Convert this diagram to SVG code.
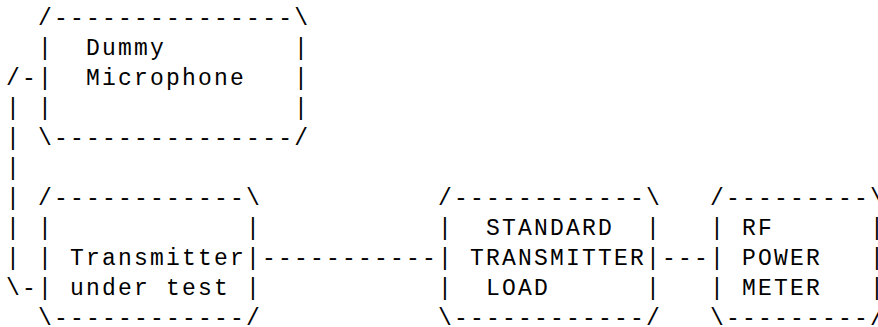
<svg xmlns="http://www.w3.org/2000/svg" width="878" height="327" viewBox="0 0 878 327">
  <style>
    /* monospaced character grid: 16px columns, 30px rows */
    .t { font-family: "Liberation Mono", "DejaVu Sans Mono", monospace; font-size: 23px; letter-spacing: 2.2px; fill: #000; }
  </style>
  <rect width="878" height="327" fill="#fff"/>

  <!-- Dummy Microphone box -->
  <g id="dummy-microphone" class="t">
    <text x="38.1" y="25">/---------------\</text>
    <text x="38.1" y="55">|</text><text x="86.1" y="55">Dummy</text><text x="294.1" y="55">|</text>
    <text x="38.1" y="85">|</text><text x="86.1" y="85">Microphone</text><text x="294.1" y="85">|</text>
    <text x="38.1" y="115">|</text><text x="294.1" y="115">|</text>
    <text x="38.1" y="145">\---------------/</text>
  </g>

  <!-- Transmitter under test box -->
  <g id="transmitter-under-test" class="t">
    <text x="38.1" y="205">/------------\</text>
    <text x="38.1" y="235">|</text><text x="246.1" y="235">|</text>
    <text x="38.1" y="265">|</text><text x="70.1" y="265">Transmitter</text><text x="246.1" y="265">|</text>
    <text x="38.1" y="295">|</text><text x="70.1" y="295">under</text><text x="166.1" y="295">test</text><text x="246.1" y="295">|</text>
    <text x="38.1" y="325">\------------/</text>
  </g>

  <!-- Standard transmitter load box -->
  <g id="standard-transmitter-load" class="t">
    <text x="438.1" y="205">/------------\</text>
    <text x="438.1" y="235">|</text><text x="486.1" y="235">STANDARD</text><text x="646.1" y="235">|</text>
    <text x="438.1" y="265">|</text><text x="470.1" y="265">TRANSMITTER</text><text x="646.1" y="265">|</text>
    <text x="438.1" y="295">|</text><text x="486.1" y="295">LOAD</text><text x="646.1" y="295">|</text>
    <text x="438.1" y="325">\------------/</text>
  </g>

  <!-- RF power meter box -->
  <g id="rf-power-meter" class="t">
    <text x="710.1" y="205">/---------\</text>
    <text x="710.1" y="235">|</text><text x="742.1" y="235">RF</text><text x="870.1" y="235">|</text>
    <text x="710.1" y="265">|</text><text x="742.1" y="265">POWER</text><text x="870.1" y="265">|</text>
    <text x="710.1" y="295">|</text><text x="742.1" y="295">METER</text><text x="870.1" y="295">|</text>
    <text x="710.1" y="325">\---------/</text>
  </g>

  <!-- connectors -->
  <g id="connectors" class="t">
    <text x="6.1" y="85">/-</text>
    <text x="6.1" y="115">|</text>
    <text x="6.1" y="145">|</text>
    <text x="6.1" y="175">|</text>
    <text x="6.1" y="205">|</text>
    <text x="6.1" y="235">|</text>
    <text x="6.1" y="265">|</text>
    <text x="6.1" y="295">\-</text>
    <text x="262.1" y="265">-----------</text>
    <text x="662.1" y="265">---</text>
  </g>
</svg>
